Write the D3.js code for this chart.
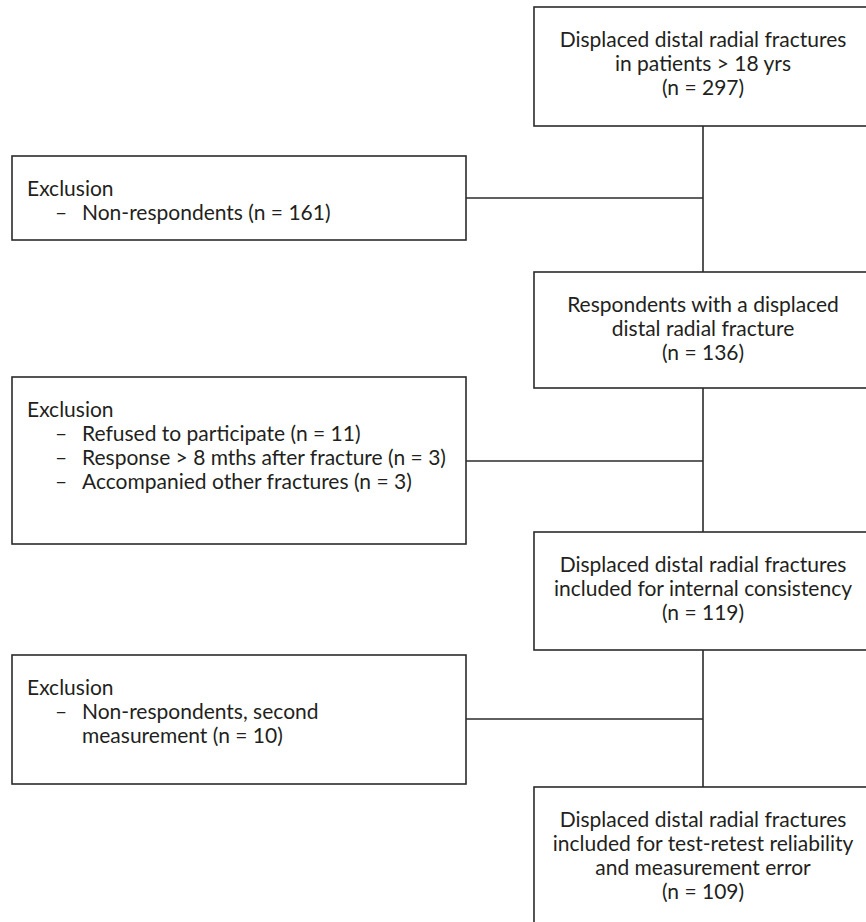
<!DOCTYPE html>
<html><head><meta charset="utf-8">
<script src="https://cdn.jsdelivr.net/npm/d3@7"></script>
<style>body{margin:0;background:#fff}svg{display:block}</style>
</head><body>
<script>
// ---- data ----
const stageLabels = [
  ["Displaced distal radial fractures", "in patients > 18 yrs"],
  ["Respondents with a displaced", "distal radial fracture"],
  ["Displaced distal radial fractures", "included for internal consistency"],
  ["Displaced distal radial fractures", "included for test-retest reliability", "and measurement error"]
];
const stageCounts = [297, 136, 119, 109];
const exclusionTitle = "Exclusion";
const exclusionReasons = [
  ["Non-respondents"],
  ["Refused to participate", "Response > 8 mths after fracture", "Accompanied other fractures"],
  ["Non-respondents, second\nmeasurement"]
];
const exclusionCounts = [[161], [11, 3, 3], [10]];

// ---- layout ----
const W = 866, H = 922;
const mainLeft = 534, mainRight = 872, mainCx = (mainLeft + mainRight) / 2;
const mainRows = [[7, 126], [272, 388], [532, 650], [787, 940]];
const exclLeft = 12, exclRight = 466;
const exclRows = [[156, 240], [377, 544], [655, 784]];
const connY = [198, 461, 719];
const firstLine = 33, lineH = 24;
const font = "Lato, 'Open Sans', sans-serif", fontSize = 21;
const ink = "#231f20", stroke = "#2b2b2b", sw = 1.6;

const svg = d3.select("body").append("svg").attr("width", W).attr("height", H);

// connectors
const g = svg.append("g").attr("stroke", stroke).attr("stroke-width", sw).attr("fill", "none");
for (let i = 0; i < mainRows.length - 1; i++) {
  g.append("line").attr("x1", mainCx).attr("x2", mainCx)
    .attr("y1", mainRows[i][1]).attr("y2", mainRows[i + 1][0]);
}
connY.forEach(y => g.append("line").attr("x1", exclRight).attr("x2", mainCx).attr("y1", y).attr("y2", y));

// main boxes
const main = svg.selectAll("g.main").data(stageLabels).join("g").attr("class", "main");
main.append("rect")
  .attr("x", mainLeft).attr("width", mainRight - mainLeft)
  .attr("y", (d, i) => mainRows[i][0]).attr("height", (d, i) => mainRows[i][1] - mainRows[i][0])
  .attr("fill", "#fff").attr("stroke", stroke).attr("stroke-width", sw);
main.each(function (d, i) {
  const lines = d.concat(["(n = " + stageCounts[i] + ")"]);
  d3.select(this).selectAll("text").data(lines).join("text")
    .attr("x", mainCx)
    .attr("y", (t, j) => mainRows[i][0] + firstLine + j * lineH)
    .attr("dy", "0.35em")
    .attr("text-anchor", "middle")
    .attr("font-family", font).attr("font-size", fontSize).attr("fill", ink)
    .text(t => t);
});

// exclusion boxes
const excl = svg.selectAll("g.excl").data(exclusionReasons).join("g").attr("class", "excl");
excl.append("rect")
  .attr("x", exclLeft).attr("width", exclRight - exclLeft)
  .attr("y", (d, i) => exclRows[i][0]).attr("height", (d, i) => exclRows[i][1] - exclRows[i][0])
  .attr("fill", "#fff").attr("stroke", stroke).attr("stroke-width", sw);
excl.each(function (reasons, i) {
  const sel = d3.select(this);
  const top = exclRows[i][0];
  sel.append("text").attr("x", 27).attr("y", top + firstLine).attr("dy", "0.35em")
    .attr("font-family", font).attr("font-size", fontSize).attr("fill", ink).text(exclusionTitle);
  let row = 1;
  reasons.forEach((r, k) => {
    const parts = (r + " (n = " + exclusionCounts[i][k] + ")").split("\n");
    sel.append("text").attr("x", 55).attr("y", top + firstLine + row * lineH).attr("dy", "0.35em")
      .attr("font-family", font).attr("font-size", fontSize).attr("fill", ink).text("\u2013");
    parts.forEach(p => {
      sel.append("text").attr("x", 82).attr("y", top + firstLine + row * lineH).attr("dy", "0.35em")
        .attr("font-family", font).attr("font-size", fontSize).attr("fill", ink).text(p);
      row++;
    });
  });
});
</script>
</body></html>
